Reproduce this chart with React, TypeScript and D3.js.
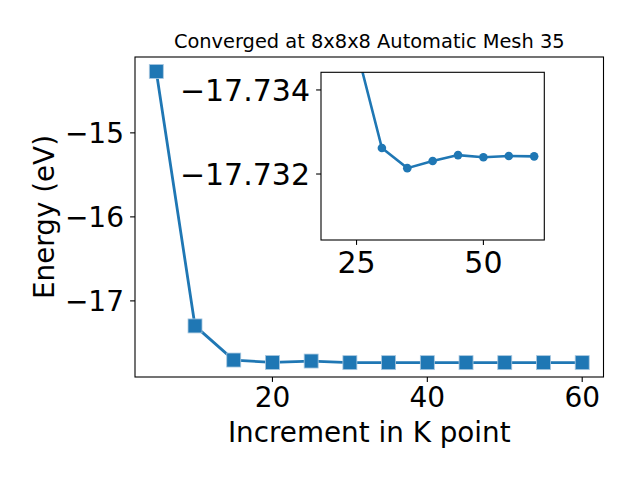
import * as d3 from "d3";

// K-point increments and total energies (eV)
const kPoints = [5, 10, 15, 20, 25, 30, 35, 40, 45, 50, 55, 60];
const energy = [-14.269, -17.298, -17.704, -17.733, -17.716, -17.735, -17.735, -17.735, -17.735, -17.735, -17.735, -17.735];

// zoomed inset (25..60)
const insetK = [25, 30, 35, 40, 45, 50, 55, 60];
const insetEnergy = [-17.73498, -17.73262, -17.73214, -17.73231, -17.73245, -17.7324, -17.73243, -17.73242];

const xTicks = [20, 40, 60];
const yTicks = [-15, -16, -17];
const insetXTicks = [25, 50];
const insetYTicks = [-17.734, -17.732];

const title = "Converged at 8x8x8 Automatic Mesh 35";
const xLabel = "Increment in K point";
const yLabel = "Energy (eV)";

const W = 640;
const H = 480;
const blue = "#1f77b4";
const font = "DejaVu Sans, sans-serif";
const fmt = (v: number) => String(v).replace("-", "\u2212");

export default function App() {
  const main = { left: 135, right: 603.5, top: 57, bottom: 377 };
  const inset = { left: 321, right: 544.3, top: 72.3, bottom: 240 };

  const x = d3.scaleLinear().domain([2.25, 62.75]).range([main.left, main.right]);
  const y = d3.scaleLinear().domain([-17.906, -14.097]).range([main.bottom, main.top]);

  const ix = d3.scaleLinear().domain([18, 62]).range([inset.left, inset.right]);
  // inset y axis runs downward, as in the reference
  const iy = d3.scaleLinear().domain([-17.73442, -17.73043]).range([inset.top, inset.bottom]);

  const line = d3
    .line<number>()
    .x((_, i) => x(kPoints[i]))
    .y((d) => y(d));
  const insetLine = d3
    .line<number>()
    .x((_, i) => ix(insetK[i]))
    .y((d) => iy(d));

  const ms = 14;

  return (
    <svg width={W} height={H} style={{ position: "absolute", left: 0, top: 0, background: "#fff" }} fontFamily={font}>
      <rect width={W} height={H} fill="#fff" />
      <defs>
        <clipPath id="insetClip">
          <rect x={inset.left} y={inset.top} width={inset.right - inset.left} height={inset.bottom - inset.top} />
        </clipPath>
      </defs>

      <text x={(main.left + main.right) / 2} y={48.4} textAnchor="middle" fontSize={19.4}>
        {title}
      </text>

      {/* main series */}
      <path d={line(energy) ?? ""} fill="none" stroke={blue} strokeWidth={2.8} />
      {energy.map((d, i) => (
        <rect
          key={i}
          x={x(kPoints[i]) - ms / 2}
          y={y(d) - ms / 2}
          width={ms}
          height={ms}
          fill={blue}
          stroke="#a9c8e0"
          strokeWidth={0.8}
        />
      ))}

      <rect x={main.left} y={main.top} width={main.right - main.left} height={main.bottom - main.top} fill="none" stroke="#000" strokeWidth={1.1} />

      {xTicks.map((t) => (
        <g key={t}>
          <line x1={x(t)} x2={x(t)} y1={main.bottom} y2={main.bottom + 4.9} stroke="#000" strokeWidth={1.1} />
          <text x={x(t)} y={407} textAnchor="middle" fontSize={28}>
            {fmt(t)}
          </text>
        </g>
      ))}
      {yTicks.map((t) => (
        <g key={t}>
          <line x1={main.left - 4.9} x2={main.left} y1={y(t)} y2={y(t)} stroke="#000" strokeWidth={1.1} />
          <text x={main.left - 11} y={y(t) + 10.1} textAnchor="end" fontSize={28}>
            {fmt(t)}
          </text>
        </g>
      ))}

      <text x={(main.left + main.right) / 2} y={441.5} textAnchor="middle" fontSize={27.8}>
        {xLabel}
      </text>
      <text transform={`translate(54,${(main.top + main.bottom) / 2}) rotate(-90)`} textAnchor="middle" fontSize={27.8}>
        {yLabel}
      </text>

      {/* inset */}
      <rect x={inset.left} y={inset.top} width={inset.right - inset.left} height={inset.bottom - inset.top} fill="#fff" />
      <g clipPath="url(#insetClip)">
        <path d={insetLine(insetEnergy) ?? ""} fill="none" stroke={blue} strokeWidth={2.6} />
        {insetEnergy.map((d, i) => (
          <circle key={i} cx={ix(insetK[i])} cy={iy(d)} r={4.3} fill={blue} />
        ))}
      </g>
      <rect x={inset.left} y={inset.top} width={inset.right - inset.left} height={inset.bottom - inset.top} fill="none" stroke="#000" strokeWidth={1.1} />
      {insetXTicks.map((t) => (
        <g key={t}>
          <line x1={ix(t)} x2={ix(t)} y1={inset.bottom} y2={inset.bottom + 4.9} stroke="#000" strokeWidth={1.1} />
          <text x={ix(t)} y={273} textAnchor="middle" fontSize={30}>
            {fmt(t)}
          </text>
        </g>
      ))}
      {insetYTicks.map((t) => (
        <g key={t}>
          <line x1={inset.left - 4.9} x2={inset.left} y1={iy(t)} y2={iy(t)} stroke="#000" strokeWidth={1.1} />
          <text x={inset.left - 11} y={iy(t) + 11} textAnchor="end" fontSize={30}>
            {d3.format(".3f")(t).replace("-", "\u2212")}
          </text>
        </g>
      ))}
    </svg>
  );
}
